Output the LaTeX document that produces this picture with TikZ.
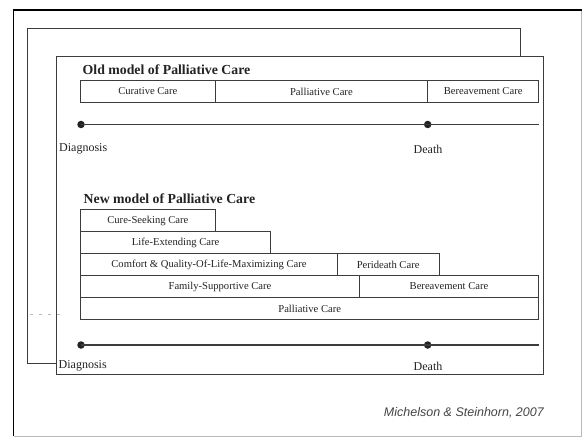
\documentclass[tikz,border=0pt]{standalone}
\usepackage{fontspec}
\setmainfont{Liberation Serif}
\newfontfamily\citefont{Liberation Sans}
\usepackage{tikz}
\usetikzlibrary{positioning, calc}
\definecolor{FrameGray}{RGB}{185,185,185}
\definecolor{LineDark}{RGB}{60,60,60}
\definecolor{InkDark}{RGB}{35,35,35}
\tikzset{
  carebox/.style={rectangle,draw=LineDark,line width=0.9pt,inner sep=0pt,
    outer sep=0pt,minimum height=22pt,anchor=north west,
    font=\fontsize{10.6}{12}\selectfont,text=InkDark},
  titletext/.style={anchor=west,inner sep=0pt,text=InkDark,
    font=\fontsize{13.8}{16}\selectfont\bfseries},
  pointtext/.style={inner sep=0pt,text=InkDark,
    font=\fontsize{12}{14}\selectfont},
  eventdot/.style={circle,fill=InkDark,minimum size=7.5pt,inner sep=0pt},
  timeline/.style={line width=1.9pt,color=LineDark},
  pageframe/.style={draw=LineDark,line width=0.9pt}
}

\begin{document}
\begin{tikzpicture}[x=1pt,y=-1pt]
  \useasboundingbox (0,0) rectangle (583,438);
  % sheet, back slide, front slide
  \draw[FrameGray,line width=0.8pt] (13.5,436) -- (581.5,436) -- (581.5,10);
  \draw[black,line width=1.8pt] (13.5,436) -- (13.5,10) -- (581.5,10);
  \draw[pageframe] (27.5,28) rectangle (520,363.5);
  \draw[pageframe,fill=white] (56,56) rectangle (543.3,374);
  \draw[FrameGray,dash pattern=on 3pt off 6pt,line width=0.7pt] (30,314) -- (63,314);

  % old model
  \node[titletext] (oldtitle) at (82.5,69.5) {Old model of Palliative Care};
  \node[carebox,minimum width=134.3pt,minimum height=21.6pt] (oldcure) at (80.7,80.7) {Curative Care};
  \node[carebox,minimum width=212.7pt,minimum height=21.6pt] (oldpall) at (oldcure.north east) {Palliative Care};
  \node[carebox,minimum width=111pt,minimum height=21.6pt] (oldbere) at (oldpall.north east) {Bereavement Care};

  \node[eventdot] (diagdot1) at (81,124.5) {};
  \node[eventdot] (deathdot1) at (427.7,124.5) {};
  \coordinate (lineend1) at (539,124.5);
  \draw[timeline] (diagdot1.center) -- (lineend1);
  \node[pointtext,anchor=west] (diaglbl1) at (59,149) {Diagnosis};
  \node[pointtext] (deathlbl1) at (428,149) {Death};

  % new model
  \node[titletext] (newtitle) at (83.5,199) {New model of Palliative Care};
  \node[carebox,minimum width=134.3pt] (cure) at (80.7,209.5) {Cure-Seeking Care};
  \node[carebox,minimum width=190pt] (life) at (cure.south west) {Life-Extending Care};
  \node[carebox,minimum width=256.6pt] (comfort) at (life.south west) {Comfort \& Quality-Of-Life-Maximizing Care};
  \node[carebox,minimum width=101.7pt] (peri) at (comfort.north east) {Perideath Care};
  \node[carebox,minimum width=278.6pt] (family) at (comfort.south west) {Family-Supportive Care};
  \node[carebox,minimum width=179.4pt] (bereave) at (family.north east) {Bereavement Care};
  \node[carebox,minimum width=458pt] (pall) at (family.south west) {Palliative Care};

  \node[eventdot] (diagdot2) at (81,345) {};
  \node[eventdot] (deathdot2) at (427.7,345) {};
  \coordinate (lineend2) at (539,345);
  \draw[timeline] (diagdot2.center) -- (lineend2);
  \node[pointtext,anchor=west] (diaglbl2) at (58.5,365.5) {Diagnosis};
  \node[pointtext] (deathlbl2) at (428,366) {Death};

  \node[anchor=east,inner sep=0pt,text=InkDark!85,
    font=\citefont\itshape\fontsize{12.5}{14}\selectfont] (source) at (544,413) {Michelson \& Steinhorn, 2007};
\end{tikzpicture}
\end{document}
